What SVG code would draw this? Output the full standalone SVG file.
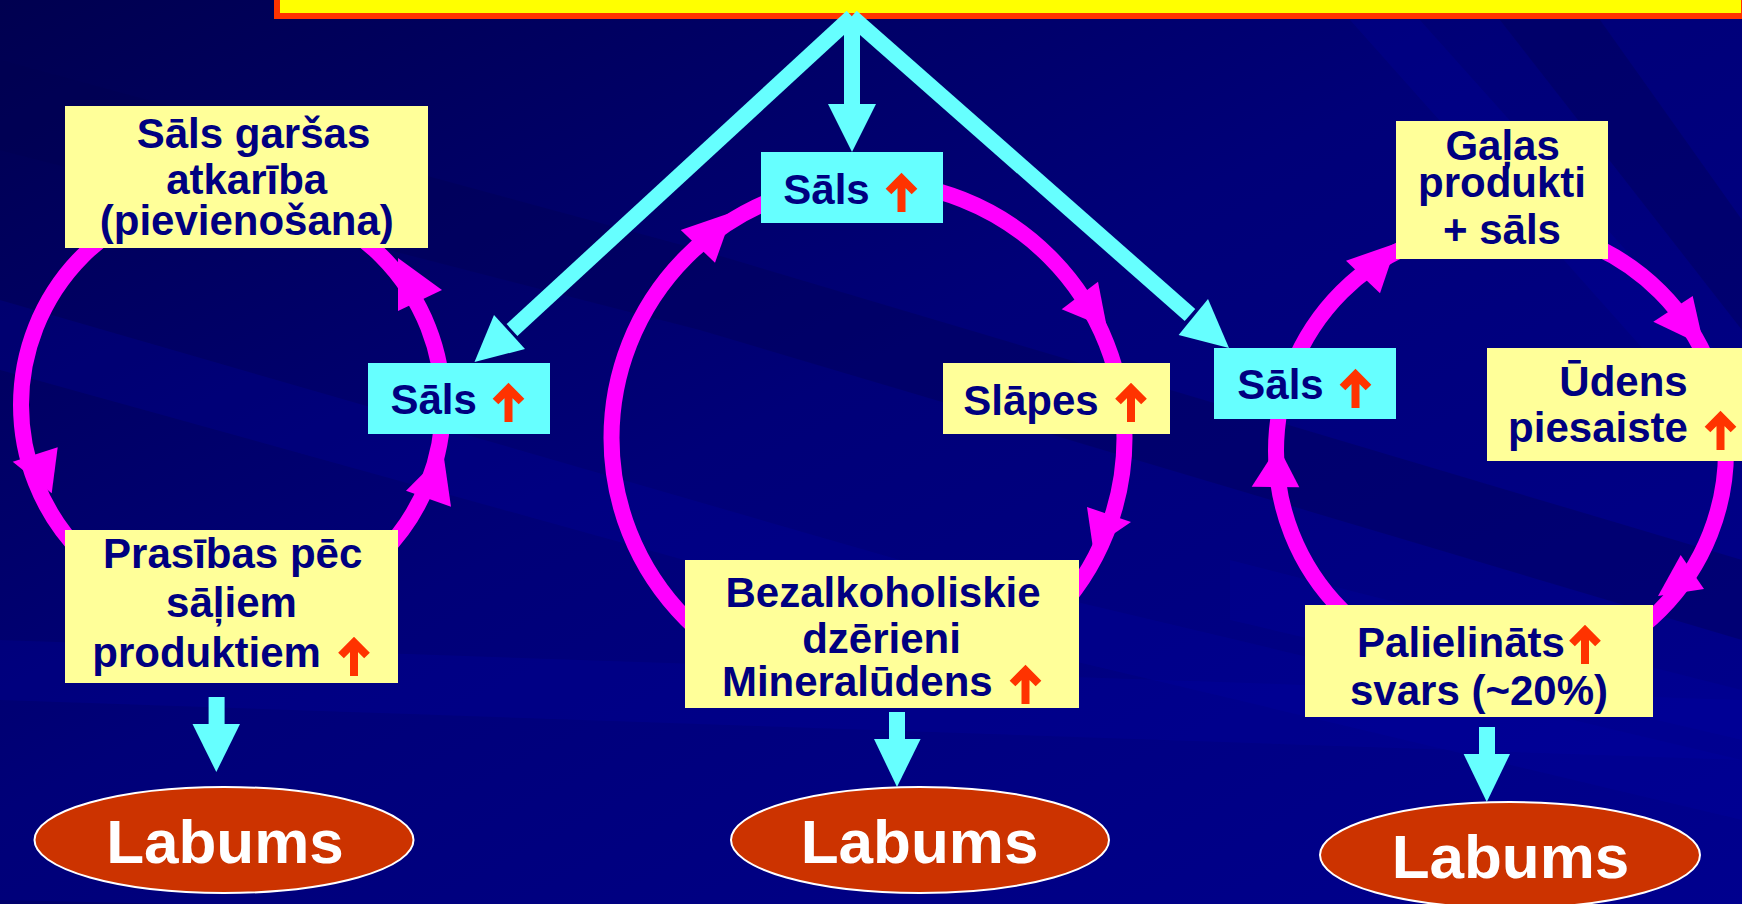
<svg xmlns="http://www.w3.org/2000/svg" width="1742" height="904" viewBox="0 0 1742 904">
<defs>
  <linearGradient id="bg" x1="0" y1="0" x2="1" y2="1">
    <stop offset="0" stop-color="#000050"/>
    <stop offset="0.45" stop-color="#000078"/>
    <stop offset="1" stop-color="#00008E"/>
  </linearGradient>
  <g id="up"><path d="M16.5 39V8M3.5 18.5L16.5 5.5L29.5 18.5" fill="none" stroke="#FF3300" stroke-width="8" stroke-miterlimit="10"/></g>
</defs>
<style>
  .box{fill:#FFFF99}
  .cbox{fill:#66FFFF}
  .t{font-family:"Liberation Sans",Arial,Helvetica,sans-serif;font-weight:bold;font-size:42px;fill:#000080;text-anchor:middle}
  .lab{font-family:"Liberation Sans",Arial,Helvetica,sans-serif;font-weight:bold;font-size:62px;fill:#FFFFFF;text-anchor:middle}
  .cyc{fill:none;stroke:#FF00FF;stroke-width:16}
  .mh{fill:#FF00FF}
  .cl{fill:none;stroke:#66FFFF;stroke-width:16;stroke-linecap:butt}
  .ch{fill:#66FFFF}
  .ell{fill:#CC3300;stroke:#FFFFFF;stroke-width:2}
  .streak{fill:#0000A8;opacity:0.22}
  .dark{fill:#000050;opacity:0.35}
</style>

<!-- background -->
<rect x="0" y="0" width="1742" height="904" fill="url(#bg)"/>
<polygon class="dark" points="0,60 700,250 1742,560 1742,640 700,330 0,150"/>
<polygon class="streak" points="0,300 900,560 1742,760 1742,820 900,620 0,370"/>
<polygon class="streak" points="0,640 1742,700 1742,760 0,700"/>
<polygon class="dark" points="0,900 1742,940 1742,1000 0,980"/>
<polygon class="streak" points="1230,560 1742,690 1742,740 1230,620"/>
<polygon class="streak" points="1350,20 1420,20 1742,380 1742,460"/>
<polygon class="dark" points="1500,20 1600,20 1742,220 1742,330"/>

<!-- title banner (cut off at top) -->
<rect id="banner" x="277" y="-20" width="1467" height="36" fill="#FFFF00" stroke="#FF3300" stroke-width="6"/>

<!-- connectors -->
<g id="connectors">
  <!-- magenta cycles -->
  <circle class="cyc" cx="232" cy="405" r="211"/>
  <circle class="cyc" cx="868" cy="438" r="256.5"/>
  <circle class="cyc" cx="1501" cy="451" r="225"/>
  <polygon class="mh" points="398,258 442,290 398,311"/>
  <polygon class="mh" points="12.7,461.7 57.7,447.3 51.7,493.3"/>
  <polygon class="mh" points="443.3,453.3 451,506.7 406,490.7"/>
  <polygon class="mh" points="680.7,230 715,262.7 733,212"/>
  <polygon class="mh" points="1098,281.7 1061.7,309.3 1107,328"/>
  <polygon class="mh" points="1087,507 1131,522 1093,548"/>
  <polygon class="mh" points="1346,260.7 1380,293.3 1397,243"/>
  <polygon class="mh" points="1692.7,296 1653.3,321.7 1704,346"/>
  <polygon class="mh" points="1251.7,486.7 1299.3,487.3 1278,446"/>
  <polygon class="mh" points="1680.7,555 1704,589 1658,596"/>

  <!-- cyan arrows from the title -->
  <line class="cl" x1="852.1" y1="16.6" x2="512" y2="330"/>
  <polygon class="ch" points="474.5,362 494,315 525,349"/>
  <line class="cl" x1="851.4" y1="16.7" x2="1190" y2="315"/>
  <polygon class="ch" points="1229,348 1178.6,335 1208,299"/>
  <line class="cl" x1="852" y1="18" x2="852" y2="106"/>
  <polygon class="ch" points="828,104 876,104 852,152"/>

  <!-- cyan arrows to Labums -->
  <line class="cl" x1="216.6" y1="697" x2="216.6" y2="726"/>
  <polygon class="ch" points="192.5,724 240,724 216.3,772"/>
  <line class="cl" x1="897" y1="712" x2="897" y2="741"/>
  <polygon class="ch" points="874,739 920.6,739 897,787"/>
  <line class="cl" x1="1487" y1="727" x2="1487" y2="756"/>
  <polygon class="ch" points="1463.6,754 1510,754 1486.8,802"/>
</g>

<!-- left cycle -->
<g id="garsas">
  <rect class="box" x="65" y="106" width="363" height="142"/>
  <text class="t" x="253.5" y="148">Sāls garšas</text>
  <text class="t" x="246.7" y="194">atkarība</text>
  <text class="t" x="246.8" y="235">(pievienošana)</text>
</g>
<g id="sals-left">
  <rect class="cbox" x="368" y="363" width="182" height="71"/>
  <text class="t" x="433.7" y="414">Sāls</text>
  <use href="#up" x="492" y="383"/>
</g>
<g id="prasibas">
  <rect class="box" x="65" y="530" width="333" height="153"/>
  <text class="t" x="232.7" y="568">Prasības pēc</text>
  <text class="t" x="231.5" y="617">sāļiem</text>
  <text class="t" x="206.6" y="667">produktiem</text>
  <use href="#up" x="337.5" y="637"/>
</g>

<!-- center cycle -->
<g id="sals-center">
  <rect class="cbox" x="761" y="152" width="182" height="71"/>
  <text class="t" x="826.5" y="204">Sāls</text>
  <use href="#up" x="885" y="173"/>
</g>
<g id="slapes">
  <rect class="box" x="943" y="363" width="227" height="71"/>
  <text class="t" x="1031" y="415">Slāpes</text>
  <use href="#up" x="1114.5" y="383"/>
</g>
<g id="dzerieni">
  <rect class="box" x="685" y="560" width="394" height="148"/>
  <text class="t" x="883" y="606.7">Bezalkoholiskie</text>
  <text class="t" x="881.5" y="653">dzērieni</text>
  <text class="t" x="857.3" y="696">Mineralūdens</text>
  <use href="#up" x="1009" y="665"/>
</g>

<!-- right cycle -->
<g id="galas">
  <rect class="box" x="1396" y="121" width="212" height="138"/>
  <text class="t" x="1502.6" y="160">Gaļas</text>
  <text class="t" x="1502" y="197">produkti</text>
  <text class="t" x="1502" y="244">+ sāls</text>
</g>
<g id="sals-right">
  <rect class="cbox" x="1214" y="348" width="182" height="71"/>
  <text class="t" x="1280.5" y="399">Sāls</text>
  <use href="#up" x="1339" y="369"/>
</g>
<g id="udens">
  <rect class="box" x="1487" y="348" width="260" height="113"/>
  <text class="t" x="1623.5" y="395.5">Ūdens</text>
  <text class="t" x="1598" y="442">piesaiste</text>
  <use href="#up" x="1704" y="411"/>
</g>
<g id="palielinats">
  <rect class="box" x="1305" y="605" width="348" height="112"/>
  <text class="t" x="1461" y="657">Palielināts</text>
  <use href="#up" x="1568.5" y="625"/>
  <text class="t" x="1479" y="705">svars (~20%)</text>
</g>

<!-- Labums -->
<g id="labums-left">
  <ellipse class="ell" cx="224" cy="840" rx="189.5" ry="53"/>
  <text class="lab" x="225" y="863">Labums</text>
</g>
<g id="labums-center">
  <ellipse class="ell" cx="920" cy="840" rx="189" ry="53"/>
  <text class="lab" x="919.6" y="863">Labums</text>
</g>
<g id="labums-right">
  <ellipse class="ell" cx="1510" cy="855" rx="190" ry="53"/>
  <text class="lab" x="1510.5" y="878">Labums</text>
</g>
</svg>
